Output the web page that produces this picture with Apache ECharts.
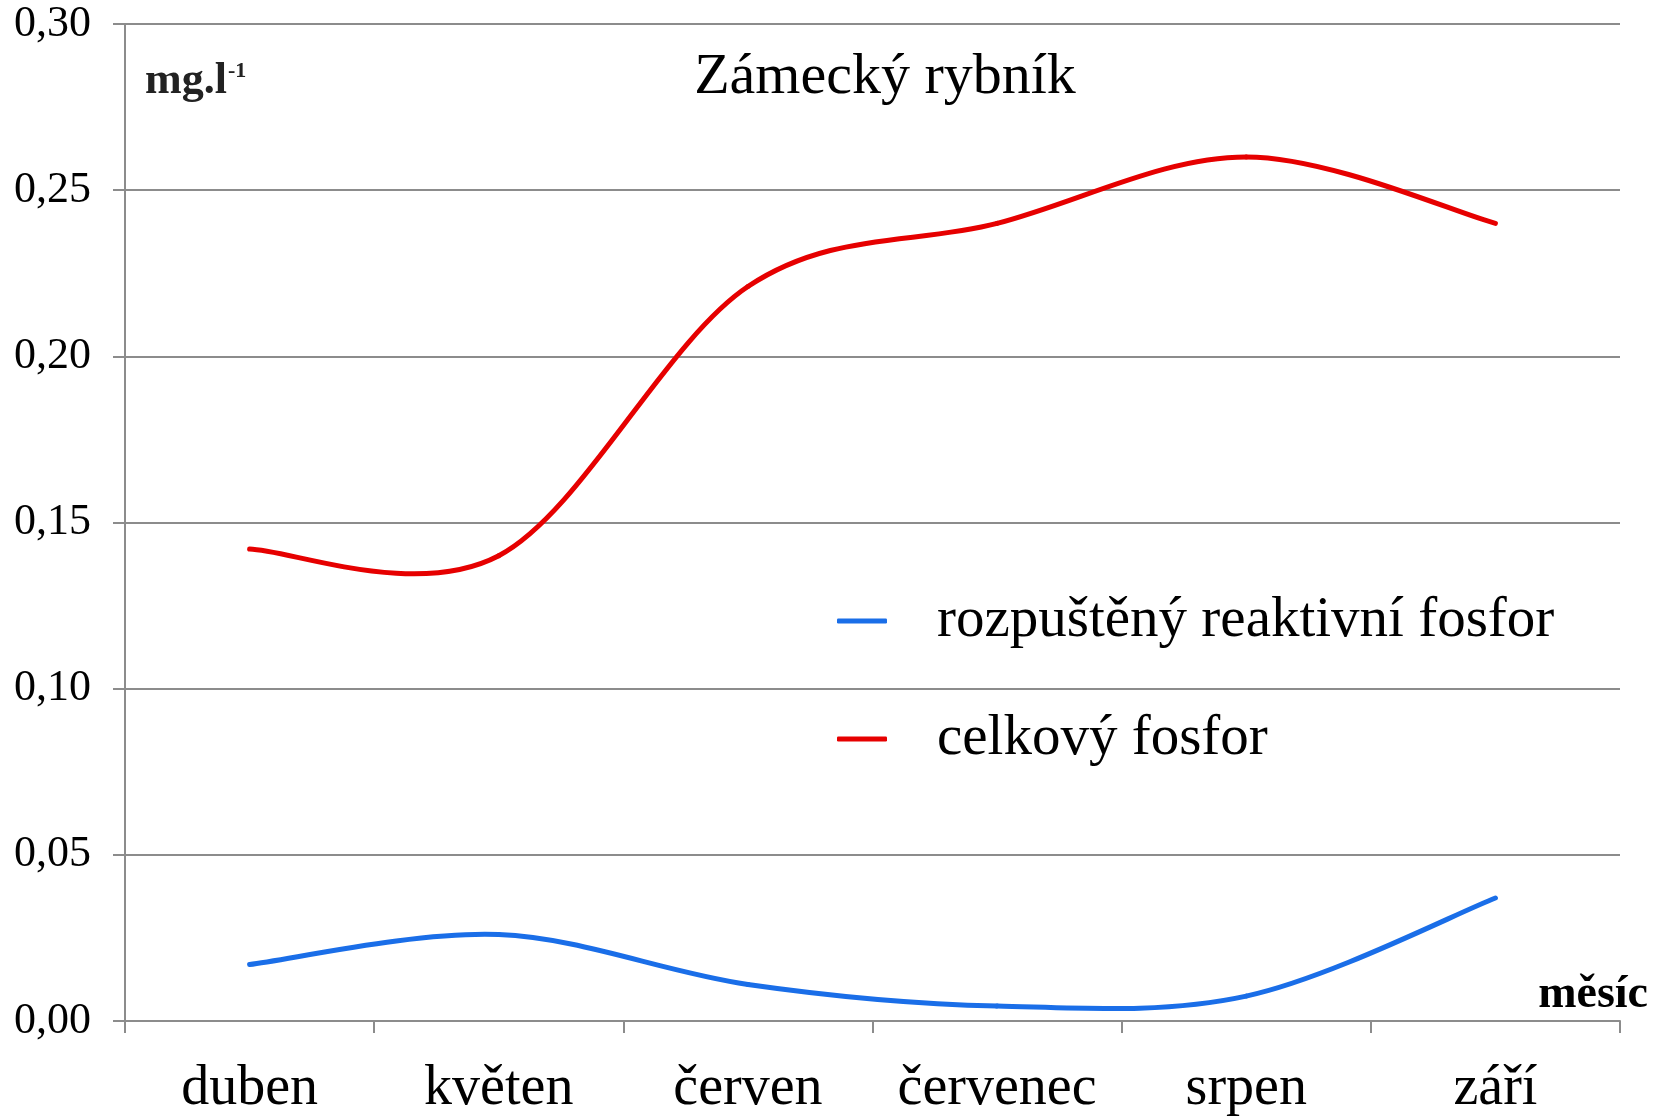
<!DOCTYPE html>
<html>
<head>
<meta charset="utf-8">
<script src="https://cdn.jsdelivr.net/npm/echarts@6/dist/echarts.min.js"></script>
<style>
html,body{margin:0;padding:0;background:#fff;}
#chart{width:1662px;height:1117px;}
</style>
</head>
<body>
<div id="chart"></div>
<script>
const categories = ['duben', 'květen', 'červen', 'červenec', 'srpen', 'září'];
const rozpusteny = [0.017, 0.026, 0.011, 0.0045, 0.0075, 0.037];
const celkovy = [0.142, 0.140, 0.221, 0.240, 0.260, 0.240];
const yTickLabels = ['0,00', '0,05', '0,10', '0,15', '0,20', '0,25', '0,30'];
const seriesNames = ['rozpuštěný reaktivní fosfor', 'celkový fosfor'];
const seriesColors = ['#1a6ee8', '#e60000'];
const titleText = 'Zámecký rybník';
const unitText = 'mg.l';
const unitSup = '-1';
const xName = 'měsíc';

const FONT = "'Liberation Serif', 'Times New Roman', serif";
const GRID = '#8c8c8c';

// Excel-like smoothed line (Catmull-Rom Bezier) drawn through the chart's own coordinate system
function smoothRenderer(values, color) {
  return function (params, api) {
    const i = params.dataIndex;
    const n = values.length;
    if (i >= n - 1) return null;
    const p = function (k) {
      k = Math.max(0, Math.min(n - 1, k));
      return api.coord([k, values[k]]);
    };
    const p0 = p(i - 1), p1 = p(i), p2 = p(i + 1), p3 = p(i + 2);
    const c1x = p1[0] + (p2[0] - p0[0]) / 6;
    const c1y = p1[1] + (p2[1] - p0[1]) / 6;
    const c2x = p2[0] - (p3[0] - p1[0]) / 6;
    const c2y = p2[1] - (p3[1] - p1[1]) / 6;
    return {
      type: 'bezierCurve',
      shape: {x1: p1[0], y1: p1[1], x2: p2[0], y2: p2[1], cpx1: c1x, cpy1: c1y, cpx2: c2x, cpy2: c2y},
      style: {stroke: color, lineWidth: 5, fill: null, lineCap: 'round'}
    };
  };
}

const chart = echarts.init(document.getElementById('chart'), null, {renderer: 'canvas'});
chart.setOption({
  backgroundColor: '#ffffff',
  animation: false,
  title: {
    text: titleText,
    left: 880,
    top: 44,
    textAlign: 'center',
    textStyle: {fontFamily: FONT, fontSize: 58, fontWeight: 'normal', color: '#000'}
  },
  legend: {
    orient: 'vertical',
    left: 832,
    top: 586,
    itemWidth: 50,
    itemHeight: 5,
    itemGap: 58,
    icon: 'roundRect',
    textStyle: {fontFamily: FONT, fontSize: 57, color: '#000', lineHeight: 60, padding: [0, 0, 0, 45]},
    data: [
      {name: seriesNames[0], itemStyle: {color: seriesColors[0]}},
      {name: seriesNames[1], itemStyle: {color: seriesColors[1]}}
    ]
  },
  grid: {left: 125, right: 42, top: 24, bottom: 96, containLabel: false},
  xAxis: {
    type: 'category',
    data: categories,
    boundaryGap: true,
    axisLine: {lineStyle: {color: GRID, width: 2}},
    axisTick: {show: true, interval: 0, length: 12, lineStyle: {color: GRID, width: 2}},
    axisLabel: {interval: 0, fontFamily: FONT, fontSize: 56, color: '#000', margin: 40},
    splitLine: {show: false}
  },
  yAxis: {
    type: 'value',
    min: 0,
    max: 0.3,
    interval: 0.05,
    axisLine: {show: true, lineStyle: {color: GRID, width: 2}},
    axisTick: {show: true, length: 12, lineStyle: {color: GRID, width: 2}},
    axisLabel: {
      fontFamily: FONT, fontSize: 44, color: '#000', margin: 34,
      formatter: function (v) { return yTickLabels[Math.round(v / 0.05)]; }
    },
    splitLine: {show: true, lineStyle: {color: GRID, width: 2}}
  },
  graphic: [
    {
      type: 'text',
      left: 145,
      top: 60,
      style: {
        text: '{a|' + unitText + '}{b|' + unitSup + '}',
        rich: {
          a: {fontFamily: FONT, fontSize: 44, fontWeight: 'bold', fill: '#222', verticalAlign: 'bottom'},
          b: {fontFamily: FONT, fontSize: 22, fontWeight: 'bold', fill: '#222', verticalAlign: 'top', padding: [0, 0, 22, 1]}
        }
      }
    },
    {
      type: 'text',
      right: 14,
      top: 972,
      style: {
        text: xName,
        font: 'bold 46px ' + FONT,
        fill: '#000'
      }
    }
  ],
  series: [
    {
      name: seriesNames[0],
      type: 'custom',
      coordinateSystem: 'cartesian2d',
      data: rozpusteny.map(function (v, i) { return [i, v]; }),
      encode: {x: 0, y: 1},
      itemStyle: {color: seriesColors[0]},
      renderItem: smoothRenderer(rozpusteny, seriesColors[0])
    },
    {
      name: seriesNames[1],
      type: 'custom',
      coordinateSystem: 'cartesian2d',
      data: celkovy.map(function (v, i) { return [i, v]; }),
      encode: {x: 0, y: 1},
      itemStyle: {color: seriesColors[1]},
      renderItem: smoothRenderer(celkovy, seriesColors[1])
    }
  ]
});
</script>
</body>
</html>
